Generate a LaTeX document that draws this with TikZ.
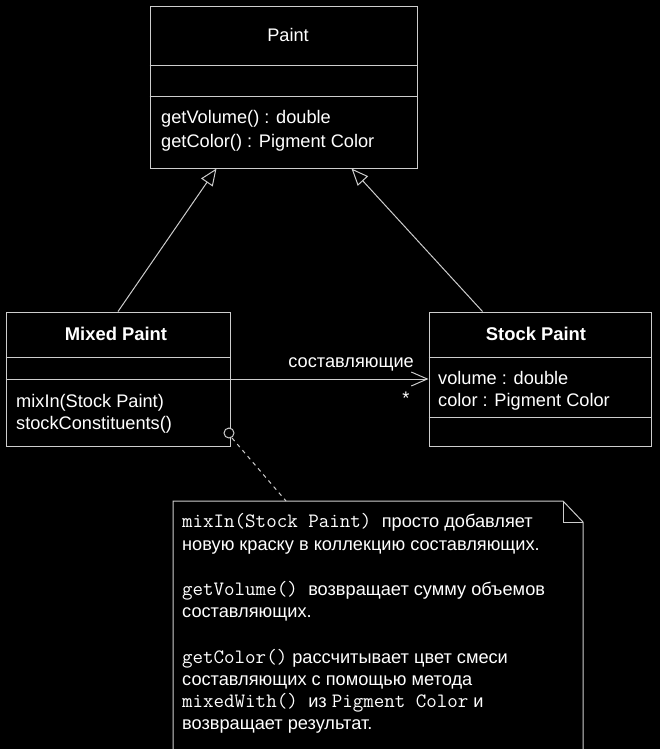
\documentclass[tikz,border=0pt]{standalone}
\usepackage{fontspec}
\setmainfont{Liberation Sans}
\usetikzlibrary{arrows.meta,calc}
\definecolor{ln}{RGB}{205,205,205}
\newcommand{\tm}{\fontsize{20.4}{22}\ttfamily}
\begin{document}
\begin{tikzpicture}[x=1pt,y=-1pt,
  box/.style={draw=ln, line width=1pt, inner sep=0pt},
  dv/.style={draw=ln, line width=1pt},
  txt/.style={text=white, inner sep=0pt, anchor=base west, font=\fontsize{18.2}{20}\selectfont},
  ttl/.style={text=white, inner sep=0pt, anchor=base, font=\fontsize{18.4}{20}\selectfont\bfseries},
  gen/.style={draw=ln, line width=1pt, -{Triangle[open, length=17pt, width=14pt, fill=black]}},
  assoc/.style={draw=ln, line width=1pt, -{Straight Barb[length=16pt, width=14pt]}},
  notel/.style={draw=ln, line width=1pt, dashed, dash pattern=on 4pt off 4pt}]
\fill[black] (0,0) rectangle (660,749);
\useasboundingbox (0,0) rectangle (660,749);

% Paint
\node[box, minimum width=267pt, minimum height=161pt] (paint) at (283.5,87.5) {};
\draw[dv] (paint.west |- 0,66) -- (paint.east |- 0,66);
\draw[dv] (paint.west |- 0,97) -- (paint.east |- 0,97);
\node[txt, anchor=base] (paintt) at (288,42) {Paint};
\node[txt] (pm1) at (161,124) {getVolume() : double};
\node[txt] (pm2) at (161,147) {getColor() : Pigment Color};

% Mixed Paint
\node[box, minimum width=224pt, minimum height=134pt] (mixed) at (118,379) {};
\draw[dv] (mixed.west |- 0,357) -- (mixed.east |- 0,357);
\draw[dv] (mixed.west |- 0,379) -- (mixed.east |- 0,379);
\node[ttl] (mixedt) at (116,340) {Mixed Paint};
\node[txt] (mm1) at (16,407) {mixIn(Stock Paint)};
\node[txt] (mm2) at (16,429) {stockConstituents()};

% Stock Paint
\node[box, minimum width=222pt, minimum height=134pt] (stock) at (540,379) {};
\draw[dv] (stock.west |- 0,357) -- (stock.east |- 0,357);
\draw[dv] (stock.west |- 0,417) -- (stock.east |- 0,417);
\node[ttl] (stockt) at (536,340) {Stock Paint};
\node[txt] (sa1) at (438,384) {volume : double};
\node[txt] (sa2) at (438,406) {color : Pigment Color};

% generalizations
\coordinate (g1a) at ([xshift=67pt]paint.south west);
\coordinate (g2a) at ([xshift=202pt]paint.south west);
\coordinate (g2s) at ([xshift=54pt]stock.north west);
\draw[gen] (mixed.north) -- (g1a);
\draw[gen] (g2s) -- (g2a);

% association
\coordinate (as) at (mixed.east |- 0,379);
\coordinate (ae) at (stock.west |- 0,379);
\draw[assoc] (as) -- (ae);
\node[txt, anchor=base east] (alab) at (414,367) {составляющие};
\node[txt, anchor=center] (mult) at (406,398) {*};

% note
\coordinate (nc) at (229,433);
\draw[ln, line width=1pt, fill=black] (nc) circle (5pt);
\coordinate (ntop) at (286,501);
\draw[notel] (nc) ++(3,5) -- (ntop);
\draw[ln, line width=1pt] (173,752) -- (173,501) -- (563,501) -- (583,522) -- (583,752);
\draw[ln, line width=1pt] (563,501) -- (563,522) -- (583,522);

\node[txt] (n1) at (182,527) {{\tm mixIn(Stock Paint) }просто добавляет};
\node[txt] (n2) at (182,550) {новую краску в коллекцию составляющих.};
\node[txt] (n3) at (182,595) {{\tm getVolume() }возвращает сумму объемов};
\node[txt] (n4) at (182,617) {составляющих.};
\node[txt] (n5) at (182,663) {{\tm getColor()} рассчитывает цвет смеси};
\node[txt] (n6) at (182,685) {составляющих с помощью метода};
\node[txt] (n7) at (182,707) {{\tm mixedWith() }из {\tm Pigment Color} и};
\node[txt] (n8) at (182,729) {возвращает результат.};
\end{tikzpicture}
\end{document}
